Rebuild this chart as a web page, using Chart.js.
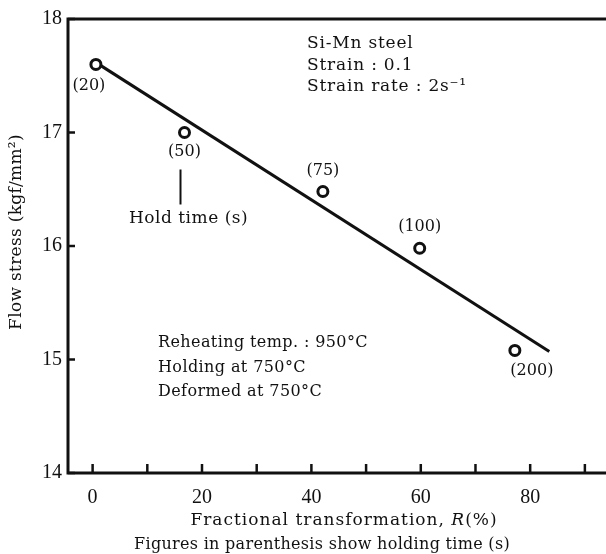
<!DOCTYPE html>
<html>
<head>
<meta charset="utf-8">
<script src="https://cdn.jsdelivr.net/npm/chart.js@4/dist/chart.umd.min.js"></script>
<style>
  html, body { margin: 0; padding: 0; background: #fff; }
  #wrap { width: 606px; height: 554px; }
</style>
</head>
<body>
<div id="wrap"><canvas id="flow"></canvas></div>
<script>
const fraction = [0.6, 16.8, 42.1, 59.8, 77.2]
const stress = [17.6, 17.0, 16.48, 15.98, 15.08]
const holdTimes = ["(20)", "(50)", "(75)", "(100)", "(200)"]
const fitX = [0.5, 83.5]
const fitY = [17.62, 15.07]
const xTickLabels = [0, 20, 40, 60, 80]
const yTickLabels = [14, 15, 16, 17, 18]

const FONT = "DejaVu Serif"
const TICK_FONT = "Liberation Serif"
const ink = "#111"

// where each (hold time) label sits relative to its point, px
const labelShift = [[-7, 21], [0, 19], [0, -21], [0, -21], [17, 20]]

function font(size, spacing, style) {
  return { f: (style ? style + " " : "") + size + "px '" + FONT + "'", s: spacing + "px" }
}
function setFont(ctx, f) {
  ctx.font = f.f
  ctx.letterSpacing = f.s
}

const extras = {
  id: "extras",
  afterDraw(chart) {
    const ctx = chart.ctx
    const x = chart.scales.x
    const y = chart.scales.y
    const a = chart.chartArea
    ctx.save()
    ctx.strokeStyle = ink
    ctx.fillStyle = ink

    // frame: left, bottom, top
    ctx.lineWidth = 3
    ctx.beginPath()
    ctx.moveTo(606, a.top)
    ctx.lineTo(a.left, a.top)
    ctx.lineTo(a.left, a.bottom)
    ctx.lineTo(606, a.bottom)
    ctx.stroke()

    // inward tick marks
    ctx.lineWidth = 2.5
    x.ticks.forEach(t => {
      const px = x.getPixelForValue(t.value)
      ctx.beginPath()
      ctx.moveTo(px, a.bottom)
      ctx.lineTo(px, a.bottom - 9)
      ctx.stroke()
    })
    y.ticks.forEach(t => {
      const py = y.getPixelForValue(t.value)
      ctx.beginPath()
      ctx.moveTo(a.left, py)
      ctx.lineTo(a.left + 7, py)
      ctx.stroke()
    })

    // hold-time labels
    setFont(ctx, font(16, 0))
    ctx.textAlign = "center"
    ctx.textBaseline = "middle"
    holdTimes.forEach((lab, i) => {
      const px = x.getPixelForValue(fraction[i]) + labelShift[i][0]
      const py = y.getPixelForValue(stress[i]) + labelShift[i][1]
      ctx.fillText(lab, px, py)
    })

    // pointer to "Hold time (s)"
    const hx = x.getPixelForValue(fraction[1]) - 4
    const hy = y.getPixelForValue(stress[1])
    ctx.lineWidth = 2
    ctx.beginPath()
    ctx.moveTo(hx, hy + 37)
    ctx.lineTo(hx, hy + 72)
    ctx.stroke()
    setFont(ctx, font(17, 0.5))
    ctx.textAlign = "left"
    ctx.fillText("Hold time (s)", 129, hy + 86)

    // condition notes
    setFont(ctx, font(17, 0.8))
    ;["Si-Mn steel", "Strain : 0.1", "Strain rate : 2s\u207B\u00B9"].forEach((s, i) => {
      ctx.fillText(s, 307, 44 + i * 21.5)
    })
    setFont(ctx, font(16, 0.4))
    ;["Reheating temp. : 950\u00B0C", "Holding at 750\u00B0C", "Deformed at 750\u00B0C"].forEach((s, i) => {
      ctx.fillText(s, 158, 343 + i * 24.5)
    })

    // axis titles
    const t1 = "Fractional transformation, "
    setFont(ctx, font(17, 1))
    const w1 = ctx.measureText(t1).width
    setFont(ctx, font(17, 1, "italic"))
    const w2 = ctx.measureText("R").width
    setFont(ctx, font(17, 1))
    const w3 = ctx.measureText("(%)").width
    let sx = 344 - (w1 + w2 + w3) / 2
    ctx.fillText(t1, sx, 521)
    setFont(ctx, font(17, 1, "italic"))
    ctx.fillText("R", sx + w1, 521)
    setFont(ctx, font(17, 1))
    ctx.fillText("(%)", sx + w1 + w2, 521)

    setFont(ctx, font(16, 0.3))
    ctx.textAlign = "center"
    ctx.fillText("Figures in parenthesis show holding time (s)", 322, 545)

    setFont(ctx, font(17, 0.3))
    ctx.translate(17, 232)
    ctx.rotate(-Math.PI / 2)
    ctx.fillText("Flow stress (kgf/mm\u00B2)", 0, 0)
    ctx.restore()
  },
}

const flowChart = new Chart(document.getElementById("flow"), {
  type: "scatter",
  data: {
    datasets: [
      {
        label: "fit",
        data: fitX.map((v, i) => ({ x: v, y: fitY[i] })),
        showLine: true,
        borderColor: ink,
        borderWidth: 3,
        pointRadius: 0,
        order: 2,
      },
      {
        label: "measured",
        data: fraction.map((v, i) => ({ x: v, y: stress[i] })),
        pointRadius: 5,
        pointBorderWidth: 3,
        pointBackgroundColor: "#fff",
        pointBorderColor: ink,
        order: 1,
      },
    ],
  },
  options: {
    responsive: true,
    maintainAspectRatio: false,
    animation: false,
    layout: { padding: { top: 19, right: 0, left: 0, bottom: 0 } },
    plugins: {
      legend: { display: false },
      tooltip: { enabled: false },
    },
    scales: {
      x: {
        min: -4.5,
        max: 92.4,
        grid: { display: false, drawTicks: false },
        border: { display: false },
        ticks: {
          stepSize: 10,
          includeBounds: false,
          padding: 13,
          color: ink,
          font: { family: TICK_FONT, size: 20 },
          maxRotation: 0,
          autoSkip: false,
          callback: v => (xTickLabels.includes(v) ? v : ""),
        },
        afterFit: s => { s.height = 81 },
      },
      y: {
        min: 14,
        max: 18,
        grid: { display: false, drawTicks: false },
        border: { display: false },
        ticks: {
          stepSize: 1,
          padding: 6,
          color: ink,
          font: { family: TICK_FONT, size: 20 },
          callback: v => (yTickLabels.includes(v) ? v : ""),
        },
        afterFit: s => { s.width = 68 },
      },
    },
  },
  plugins: [extras],
})
</script>
</body>
</html>
